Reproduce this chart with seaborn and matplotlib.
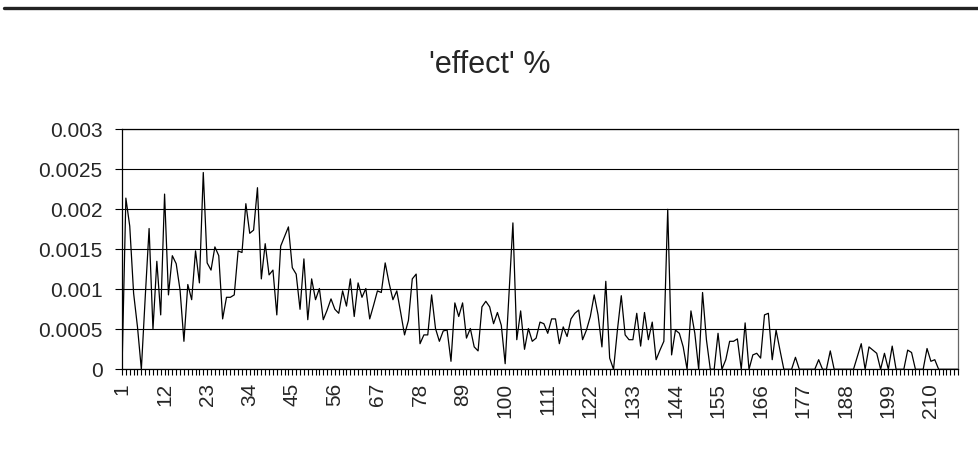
import numpy as np
import seaborn as sns
import matplotlib.pyplot as plt
from matplotlib.lines import Line2D

# series values, one per sample (1..217)
effect = [
    0, 0.00214, 0.00179, 0.00095, 0.00053, 0, 0.0009, 0.00176, 0.0005, 0.00135,
    0.00068, 0.00219, 0.00093, 0.00142, 0.00132, 0.00099, 0.00035, 0.00106, 0.00087, 0.00148,
    0.00108, 0.00246, 0.00133, 0.00124, 0.00153, 0.00142, 0.00063, 0.0009, 0.0009, 0.00093,
    0.00148, 0.00146, 0.00207, 0.0017, 0.00174, 0.00227, 0.00113, 0.00157, 0.00118, 0.00124,
    0.00068, 0.00154, 0.00166, 0.00178, 0.00127, 0.00119, 0.00075, 0.00138, 0.00062, 0.00113,
    0.00087, 0.00101, 0.00062, 0.00074, 0.00088, 0.00075, 0.0007, 0.00098, 0.00079, 0.00113,
    0.00066, 0.00108, 0.0009, 0.00101, 0.00063, 0.0008, 0.00098, 0.00096, 0.00133, 0.00108,
    0.00087, 0.00098, 0.00071, 0.00043, 0.00061, 0.00113, 0.00119, 0.00032, 0.00043, 0.00043,
    0.00093, 0.00051, 0.00035, 0.00048, 0.00049, 0.0001, 0.00083, 0.00066, 0.00083, 0.00039,
    0.00051, 0.00028, 0.00023, 0.00078, 0.00085, 0.00078, 0.00057, 0.00071, 0.00055, 0.00007,
    0.00095, 0.00183, 0.00037, 0.00073, 0.00025, 0.00051, 0.00035, 0.00039, 0.00059, 0.00057,
    0.00045, 0.00063, 0.00063, 0.00032, 0.00053, 0.00041, 0.00063, 0.0007, 0.00074, 0.00037,
    0.00049, 0.00066, 0.00093, 0.00068, 0.00028, 0.0011, 0.00014, 0, 0.00049, 0.00092,
    0.00043, 0.00037, 0.00037, 0.0007, 0.00029, 0.00071, 0.00037, 0.00059, 0.00012, 0.00024,
    0.00035, 0.002, 0.00018, 0.00049, 0.00045, 0.00028, 0, 0.00073, 0.00045, 0,
    0.00096, 0.00037, 0, 0, 0.00045, 0, 0.00012, 0.00035, 0.00035, 0.00038,
    0, 0.00058, 0, 0.00018, 0.0002, 0.00014, 0.00068, 0.0007, 0.00012, 0.00049,
    0.00024, 0, 0, 0, 0.00015, 0, 0, 0, 0, 0,
    0.00012, 0, 0, 0.00023, 0, 0, 0, 0, 0, 0,
    0.00016, 0.00032, 0, 0.00028, 0.00024, 0.0002, 0, 0.0002, 0, 0.00029,
    0, 0, 0, 0.00024, 0.00021, 0, 0, 0, 0.00026, 0.0001,
    0.00012, 0, 0, 0, 0, 0, 0,
]
samples = list(range(1, len(effect) + 1))
x_tick_labels = list(range(1, 211, 11))
y_ticks = [0, 0.0005, 0.001, 0.0015, 0.002, 0.0025, 0.003]
y_tick_labels = ["0", "0.0005", "0.001", "0.0015", "0.002", "0.0025", "0.003"]

sns.set_style("white")
plt.rcParams['font.family'] = ['Liberation Sans', 'DejaVu Sans']

fig = plt.figure(figsize=(9.79, 4.68), dpi=100)
ax = fig.add_axes([122 / 979, 1 - 369.3 / 468, 836 / 979, 240 / 468])

sns.lineplot(x=samples, y=effect, ax=ax, color="black", linewidth=0.9)

ax.set_xlim(1, len(effect))
ax.set_ylim(0, 0.003)
ax.set_yticks(y_ticks)
ax.set_yticklabels(y_tick_labels)
ax.set_xticks(x_tick_labels)
ax.set_xticklabels([str(t) for t in x_tick_labels], rotation=90)
ax.set_xticks(samples, minor=True)
ax.set_xlabel("")
ax.set_ylabel("")

ax.yaxis.grid(True, color="black", linewidth=0.8)
ax.xaxis.grid(False)
ax.set_axisbelow(True)

ax.tick_params(axis="x", which="both", direction="out", length=4, width=0.8,
               color="black", bottom=True, labelsize=15, pad=6)
ax.tick_params(axis="y", which="major", direction="out", length=5, width=0.8,
               color="black", left=True, labelsize=15, pad=9)
for side in ["left", "bottom", "top"]:
    ax.spines[side].set_color("black")
    ax.spines[side].set_linewidth(0.9)
ax.spines["right"].set_color("#666666")
ax.spines["right"].set_linewidth(0.9)

fig.text(0.5, 1 - 65 / 468, "'effect' %", ha="center", va="center", fontsize=22)
fig.add_artist(Line2D([0.004, 1.0], [1 - 8 / 468, 1 - 8 / 468], color="#222222", linewidth=2.4))

fig.savefig("out.png", dpi=100)
